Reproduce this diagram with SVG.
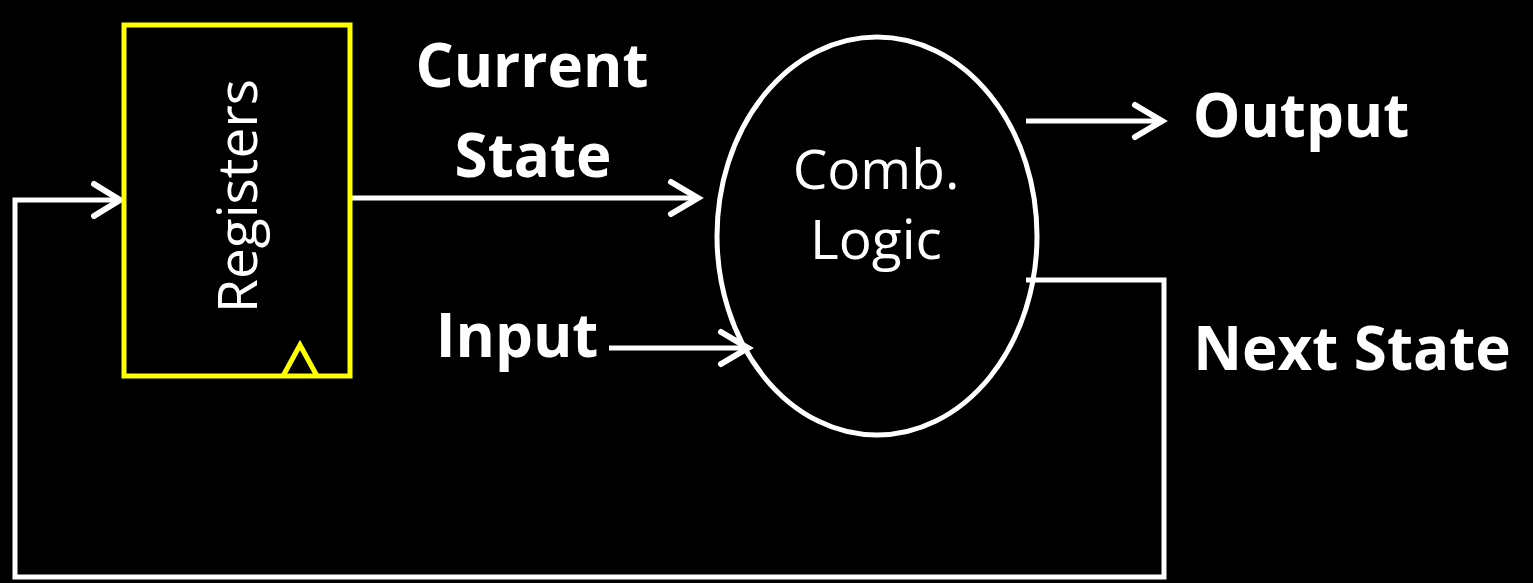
<svg xmlns="http://www.w3.org/2000/svg" width="1533" height="583" viewBox="0 0 1533 583">
<defs>
<style>
.w{stroke:#fff;stroke-width:5;fill:none;stroke-linejoin:miter}
.ah{stroke:#fff;stroke-width:6;fill:none;stroke-linecap:round;stroke-linejoin:miter}
.b{font-family:"Open Sans","Liberation Sans",sans-serif;font-weight:bold;fill:#fff;font-size:60px}
.n{font-family:"Open Sans","Liberation Sans",sans-serif;fill:#fff;font-size:55px}
</style>
</defs>
<rect width="1533" height="583" fill="#000"/>
<g id="connectors">
<path class="w" d="M352,198 H698"/>
<path class="ah" d="M671,182 L698,198 L671,214"/>
<path class="w" d="M609,348 H748"/>
<path class="ah" d="M721,332 L748,348 L721,364"/>
<path class="w" d="M1026,121 H1162"/>
<path class="ah" d="M1135,105 L1162,121 L1135,137"/>
<path class="w" d="M1026,280 H1164 V577 H15 V200 H120"/>
<path class="ah" d="M94,184 L120,200 L94,216"/>
</g>
<g id="registers">
<rect x="124" y="25" width="226" height="351" fill="none" stroke="#ffff00" stroke-width="5"/>
<path d="M283,376 L300,345 L317,376" fill="none" stroke="#ffff00" stroke-width="5"/>
<text class="n" transform="translate(257,196) rotate(-90)" text-anchor="middle">Registers</text>
</g>
<g id="comb-logic">
<ellipse cx="877" cy="236" rx="160" ry="199" fill="none" stroke="#fff" stroke-width="5"/>
<text class="n" x="876" y="189" text-anchor="middle">Comb.</text>
<text class="n" x="876" y="259" text-anchor="middle">Logic</text>
</g>
<g id="labels">
<text class="b" x="532" y="87" text-anchor="middle">Current</text>
<text class="b" x="533" y="177" text-anchor="middle">State</text>
<text class="b" x="517" y="357" text-anchor="middle">Input</text>
<text class="b" x="1301" y="137" text-anchor="middle">Output</text>
<text class="b" x="1352" y="370" text-anchor="middle">Next State</text>
</g>
</svg>
